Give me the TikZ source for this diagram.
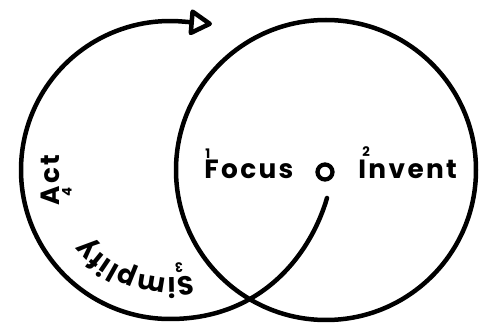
\documentclass[tikz,border=0pt]{standalone}
\usepackage{fontspec}
\usetikzlibrary{arrows.meta,calc,decorations.text}
\newfontfamily\popfont[LetterSpace=9]{Poppins}
\newfontfamily\popplain{Poppins}

\begin{document}
\begin{tikzpicture}[
    x=0.02cm, y=0.02cm,
    >={Triangle[open, length=0.50cm, width=0.56cm, line join=round]},
    ring/.style={draw=black, line width=0.09cm},
    word/.style={text=black, font=\popfont\bfseries\fontsize{15}{18}\selectfont, inner sep=0pt},
    num/.style={text=black, font=\popplain\bfseries\fontsize{7.5}{9}\selectfont, inner sep=0pt}
]

% Frame
\useasboundingbox (0,0) rectangle (481,325);

% Centers
\def\rl{149}
\def\rr{150}
\coordinate (L) at (170,155);
\coordinate (R) at (326,155);
\coordinate (O) at (325,153);
\coordinate (SP) at (327,127);
\coordinate (TIP) at (212,301);

% Right circle
\draw[ring] (R) circle (\rr);

% Small centre ring
\draw[black, line width=0.085cm] (O) circle (7.5);

% Spiral loop with arrow
\draw[ring, line cap=round, ->] (SP) .. controls (312,75) and (265,6) .. ($(L)+(0,-\rl)$)
    arc[start angle=270, end angle=85, radius=\rl] -- (TIP);

% Labels inside the right circle
\node[word, anchor=base west] (focus) at (204,146) {Focus};
\node[num, anchor=base west] (n1) at (205,166) {1};
\node[word, anchor=base west] (invent) at (358,146) {Invent};
\node[num, anchor=base west] (n2) at (362,168) {2};

% Labels round the loop
\node[word, rotate=90, anchor=base] (act) at (59,145) {Act};
\node[num, rotate=90] (n4) at (67,133) {4};
\node[num, rotate=184] (n3) at (179,57) {3};
\path[decorate, decoration={text along path,
    text={|\popplain\bfseries\fontsize{15}{18}\selectfont|Simplify},
    text align={fit to path}}]
    ($(L)+(-78:108)$) arc[start angle=-78, end angle=-141, radius=108];

\end{tikzpicture}
\end{document}
